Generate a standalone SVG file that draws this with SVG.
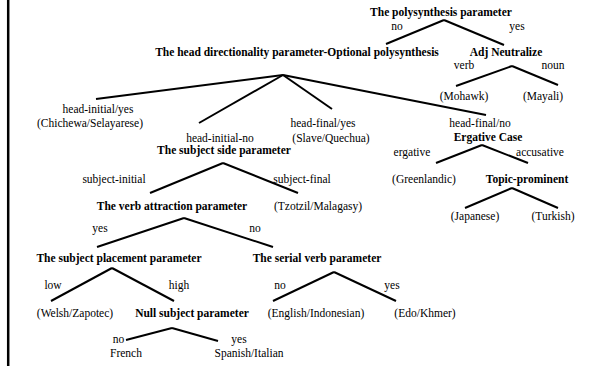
<svg xmlns="http://www.w3.org/2000/svg" width="592" height="366" viewBox="0 0 592 366">
<style>
text{font-family:"Liberation Serif","Times New Roman",serif;font-size:11.5px;fill:#000;text-anchor:middle}
.b{font-weight:bold}
.c line{stroke:#000;stroke-width:2;stroke-linecap:butt}
</style>
<rect x="0" y="0" width="592" height="366" fill="#fff"/>
<line x1="8.2" y1="0" x2="8.2" y2="366" stroke="#000" stroke-width="2.5"/>
<g class="c" id="connectors">
<line x1="444" y1="20" x2="386" y2="44"/>
<line x1="444" y1="20" x2="504" y2="45"/>
<line x1="512" y1="66" x2="456" y2="86"/>
<line x1="512" y1="66" x2="558" y2="85"/>
<line x1="283" y1="75" x2="96" y2="99"/>
<line x1="283" y1="75" x2="199" y2="123"/>
<line x1="283" y1="75" x2="332" y2="109"/>
<line x1="283" y1="75" x2="486" y2="115"/>
<line x1="482" y1="145" x2="436" y2="163"/>
<line x1="482" y1="145" x2="528" y2="163"/>
<line x1="512" y1="188" x2="465" y2="208"/>
<line x1="512" y1="188" x2="558" y2="208"/>
<line x1="223" y1="163" x2="150" y2="193"/>
<line x1="223" y1="163" x2="298" y2="193"/>
<line x1="184" y1="218" x2="97" y2="247"/>
<line x1="184" y1="218" x2="273" y2="247"/>
<line x1="112" y1="268" x2="51" y2="301"/>
<line x1="112" y1="268" x2="174" y2="301"/>
<line x1="334" y1="272" x2="273" y2="301"/>
<line x1="334" y1="272" x2="396" y2="301"/>
<line x1="172" y1="328" x2="126" y2="340"/>
<line x1="172" y1="328" x2="218" y2="341"/>
<text x="397" y="30">no</text>
<text x="517" y="30">yes</text>
<text x="464" y="69">verb</text>
<text x="553" y="69">noun</text>
<text x="98" y="113">head-initial/yes</text>
<text x="323" y="127">head-final/yes</text>
<text x="220" y="142">head-initial-no</text>
<text x="480" y="127">head-final/no</text>
<text x="412" y="156">ergative</text>
<text x="540" y="156">accusative</text>
<text x="114" y="183">subject-initial</text>
<text x="302" y="183">subject-final</text>
<text x="100" y="232">yes</text>
<text x="255" y="232">no</text>
<text x="53" y="289">low</text>
<text x="179" y="289">high</text>
<text x="280" y="289">no</text>
<text x="392" y="289">yes</text>
<text x="118.5" y="343">no</text>
<text x="239" y="343">yes</text>
</g>
<g id="n_poly"><text class="b" x="441" y="16">The polysynthesis parameter</text></g>
<g id="n_headdir"><text class="b" x="297" y="56">The head directionality parameter-Optional polysynthesis</text></g>
<g id="n_adj"><text class="b" x="506" y="56">Adj Neutralize</text></g>
<g id="n_mohawk"><text x="464" y="100">(Mohawk)</text></g>
<g id="n_mayali"><text x="543" y="100">(Mayali)</text></g>
<g id="n_chichewa"><text x="90" y="127">(Chichewa/Selayarese)</text></g>
<g id="n_slave"><text x="331" y="142">(Slave/Quechua)</text></g>
<g id="n_subjside"><text class="b" x="224" y="154">The subject side parameter</text></g>
<g id="n_ergative"><text class="b" x="488" y="141">Ergative Case</text></g>
<g id="n_greenlandic"><text x="424" y="183">(Greenlandic)</text></g>
<g id="n_topic"><text class="b" x="527" y="183">Topic-prominent</text></g>
<g id="n_japanese"><text x="475" y="220">(Japanese)</text></g>
<g id="n_turkish"><text x="553" y="220">(Turkish)</text></g>
<g id="n_verbattr"><text class="b" x="172" y="210">The verb attraction parameter</text></g>
<g id="n_tzotzil"><text x="318" y="210">(Tzotzil/Malagasy)</text></g>
<g id="n_subjplace"><text class="b" x="119" y="262">The subject placement parameter</text></g>
<g id="n_serial"><text class="b" x="317" y="262">The serial verb parameter</text></g>
<g id="n_welsh"><text x="75" y="317">(Welsh/Zapotec)</text></g>
<g id="n_null"><text class="b" x="192" y="317">Null subject parameter</text></g>
<g id="n_english"><text x="316" y="317">(English/Indonesian)</text></g>
<g id="n_edo"><text x="425" y="317">(Edo/Khmer)</text></g>
<g id="n_french"><text x="126" y="357">French</text></g>
<g id="n_spanish"><text x="249" y="357">Spanish/Italian</text></g>
</svg>
